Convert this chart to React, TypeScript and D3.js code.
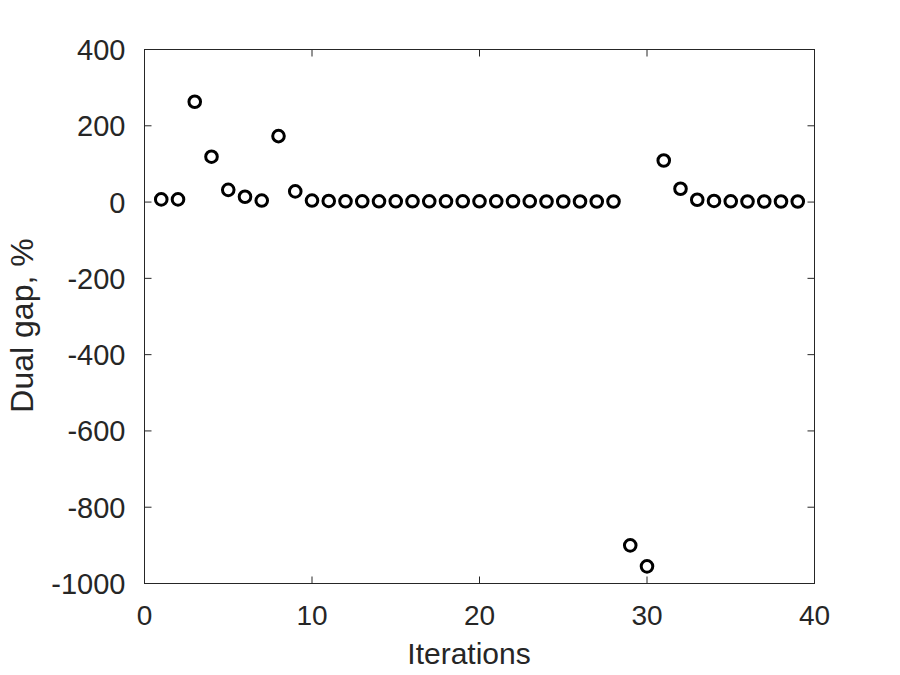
import React from "react";
import * as d3 from "d3";

const iterations = [
  1, 2, 3, 4, 5, 6, 7, 8, 9, 10, 11, 12, 13, 14, 15, 16, 17, 18, 19, 20,
  21, 22, 23, 24, 25, 26, 27, 28, 29, 30, 31, 32, 33, 34, 35, 36, 37, 38, 39,
];
const dualGap = [
  7, 7, 263, 119, 32, 14, 4, 173, 28, 4, 3, 2, 2, 2, 2, 2, 2, 2, 2, 2,
  2, 2, 2, 1.5, 1.5, 1.5, 1.5, 1.5, -900, -955, 109, 35, 6, 3, 2, 1.5, 1.5, 1.5, 1.5,
];
const xTicks = [0, 10, 20, 30, 40];
const yTicks = [-1000, -800, -600, -400, -200, 0, 200, 400];

const W = 900;
const H = 675;
const left = 144.5;
const right = 814.5;
const top = 49.5;
const bottom = 583.5;

export default function App() {
  const x = d3.scaleLinear().domain([0, 40]).range([left, right]);
  const y = d3.scaleLinear().domain([-1000, 400]).range([bottom, top]);
  const font = "'Liberation Sans', Arial, Helvetica, sans-serif";
  const axisColor = "#262626";
  const tickLen = 7;
  return (
    <svg
      width={W}
      height={H}
      style={{ position: "fixed", left: 0, top: 0, background: "#fff" }}
      fontFamily={font}
    >
      <rect x={0} y={0} width={W} height={H} fill="#fff" />
      <rect
        x={left}
        y={top}
        width={right - left}
        height={bottom - top}
        fill="none"
        stroke={axisColor}
        strokeWidth={1}
      />
      {xTicks.map((t) => (
        <g key={"x" + t}>
          <line x1={x(t)} x2={x(t)} y1={bottom} y2={bottom - tickLen} stroke={axisColor} />
          <line x1={x(t)} x2={x(t)} y1={top} y2={top + tickLen} stroke={axisColor} />
          <text
            x={x(t)}
            y={bottom + 41.5}
            textAnchor="middle"
            fontSize={28}
            fill="#262626"
          >
            {t}
          </text>
        </g>
      ))}
      {yTicks.map((t) => (
        <g key={"y" + t}>
          <line x1={left} x2={left + tickLen} y1={y(t)} y2={y(t)} stroke={axisColor} />
          <line x1={right} x2={right - tickLen} y1={y(t)} y2={y(t)} stroke={axisColor} />
          <text
            x={left - 19}
            y={y(t) + 10.5}
            textAnchor="end"
            fontSize={29}
            fill="#262626"
          >
            {t}
          </text>
        </g>
      ))}
      <text
        x={469}
        y={663.5}
        textAnchor="middle"
        fontSize={30}
        fill="#262626"
      >
        Iterations
      </text>
      <text
        transform={`translate(32.5, 325.5) rotate(-90)`}
        textAnchor="middle"
        fontSize={32}
        fill="#262626"
      >
        Dual gap, %
      </text>
      {iterations.map((it, i) => (
        <circle
          key={it}
          cx={x(it)}
          cy={y(dualGap[i])}
          r={5.8}
          fill="none"
          stroke="#000"
          strokeWidth={3}
        />
      ))}
    </svg>
  );
}
